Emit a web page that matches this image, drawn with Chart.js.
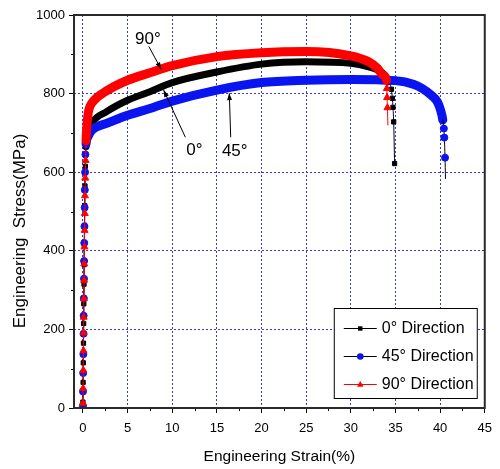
<!DOCTYPE html>
<html>
<head>
<meta charset="utf-8">
<script src="https://cdn.jsdelivr.net/npm/chart.js@4.4.1/dist/chart.umd.min.js"></script>
<style>
  html, body { margin: 0; padding: 0; background: #fff; }
  #wrap { width: 500px; height: 469px; }
</style>
</head>
<body>
<div id="wrap"><canvas id="stressChart" width="500" height="469"></canvas></div>
<script>
// axis ticks
const strainTicks = [0, 5, 10, 15, 20, 25, 30, 35, 40, 45];
const strainMinor = [2.5, 7.5, 12.5, 17.5, 22.5, 27.5, 32.5, 37.5, 42.5];
const stressTicks = [0, 200, 400, 600, 800, 1000];
const stressMinor = [100, 300, 500, 700, 900];

const seriesLabels = ['0° Direction', '45° Direction', '90° Direction'];

// 0 deg: elastic part, plastic band, fracture tail
const strain0Elastic = [0.00, 0.02, 0.04, 0.06, 0.08, 0.10, 0.12, 0.14, 0.16, 0.18, 0.20, 0.23, 0.27];
const stress0Elastic = [15, 65, 115, 165, 215, 265, 315, 365, 415, 465, 515, 565, 615];
const strain0Band = [0.35, 0.55, 1.0, 2.65, 5, 7.5, 10, 15, 20, 25, 30, 32, 33, 33.8, 34.2];
const stress0Band = [665, 700, 725, 754, 783, 805, 828, 855, 875, 881, 877, 868, 860, 847, 830];
const strain0Tail = [34.55, 34.65, 34.72, 34.8, 34.9];
const stress0Tail = [811, 788, 765, 728, 622];

// 45 deg
const strain45Elastic = [0.00, 0.01, 0.03, 0.05, 0.07, 0.08, 0.10, 0.12, 0.13, 0.15, 0.17, 0.19, 0.21, 0.24, 0.28];
const stress45Elastic = [6, 42, 89, 137, 189, 235, 279, 329, 374, 420, 462, 510, 555, 600, 645];
const strain45Band = [0.35, 0.6, 1.0, 2.65, 5, 7.5, 10, 15, 20, 25, 30, 35, 37, 38, 39, 39.7, 40.1, 40.3];
const stress45Band = [672, 692, 707, 724, 745, 762, 781, 809, 828, 834, 836, 833, 824, 813, 796, 779, 754, 733];
const strain45Tail = [40.42, 40.47, 40.55, 40.6];
const stress45Tail = [711, 688, 637, 584];

// 90 deg
const strain90Elastic = [0.00, 0.02, 0.04, 0.06, 0.08, 0.09, 0.11, 0.13, 0.15, 0.17, 0.19, 0.21, 0.23, 0.26, 0.30];
const stress90Elastic = [12, 50, 96, 146, 191, 231, 278, 325, 367, 410, 452, 495, 540, 585, 630];
const strain90Band = [0.35, 0.45, 0.6, 0.8, 1.2, 2.65, 5, 7.5, 10, 15, 20, 25, 30, 32, 33, 33.6, 34.0];
const stress90Band = [680, 720, 752, 768, 782, 807, 834, 853, 871, 894, 904, 907, 896, 881, 864, 847, 834];
const strain90Tail = [34.03, 34.06, 34.1, 34.15];
const stress90Tail = [813, 790, 764, 720];

// arrow labels, in data units
const notes = [
  { text: '90°', at: [5.83, 927], from: [7.38, 920], to: [8.76, 862] },
  { text: '0°', at: [11.58, 643], from: [11.47, 689], to: [9.04, 809] },
  { text: '45°', at: [15.56, 641], from: [16.55, 689], to: [16.39, 801] }
];

const FONT = "'Liberation Sans', Arial, sans-serif";
const gridBlue = '#3a3ac4';

function buildSeries(sE, yE, sB, yB, sT, yT) {
  const xs = sE.concat(sB, sT);
  const ys = yE.concat(yB, yT);
  return {
    points: xs.map((x, i) => ({ x: x, y: ys[i] })),
    bandFrom: sE.length,
    bandTo: sE.length + sB.length - 1
  };
}

const looks = [
  { line: '#000', fill: '#000', marker: 'rect', size: 3, band: 7, order: 3, openEnd: false },
  { line: '#000', fill: '#0a14f0', marker: 'circle', size: 3.5, band: 9, order: 2, openEnd: true },
  { line: '#f00', fill: '#f00', marker: 'triangle', size: 4, band: 9, order: 1, openEnd: true }
];

const series = [
  buildSeries(strain0Elastic, stress0Elastic, strain0Band, stress0Band, strain0Tail, stress0Tail),
  buildSeries(strain45Elastic, stress45Elastic, strain45Band, stress45Band, strain45Tail, stress45Tail),
  buildSeries(strain90Elastic, stress90Elastic, strain90Band, stress90Band, strain90Tail, stress90Tail)
];

function makeDataset(i) {
  const s = series[i], lk = looks[i];
  const inBand = c => c.p0DataIndex >= s.bandFrom && c.p1DataIndex <= s.bandTo;
  const radius = c => {
    const k = c.dataIndex;
    if (k >= s.bandFrom && k <= s.bandTo) return 0;
    if (lk.openEnd && k === s.points.length - 1) return 0;
    return lk.size;
  };
  return {
    label: seriesLabels[i],
    data: s.points,
    order: lk.order,
    borderColor: lk.line,
    borderWidth: 1,
    borderCapStyle: 'round',
    borderJoinStyle: 'round',
    cubicInterpolationMode: 'monotone',
    pointStyle: lk.marker,
    pointRadius: radius,
    pointHoverRadius: radius,
    pointBackgroundColor: lk.fill,
    pointBorderColor: lk.fill,
    pointBorderWidth: 1,
    segment: {
      borderWidth: c => inBand(c) ? lk.band : 1,
      borderColor: c => inBand(c) ? lk.fill : lk.line
    }
  };
}

function drawMarker(ctx, style, x, y, color) {
  ctx.fillStyle = color;
  ctx.beginPath();
  if (style === 'rect') {
    ctx.rect(x - 2.2, y - 2.2, 4.4, 4.4);
  } else if (style === 'circle') {
    ctx.arc(x, y, 3.3, 0, Math.PI * 2);
  } else {
    ctx.moveTo(x, y - 3.6);
    ctx.lineTo(x + 3.2, y + 2.2);
    ctx.lineTo(x - 3.2, y + 2.2);
    ctx.closePath();
  }
  ctx.fill();
}

const decorations = {
  id: 'decorations',
  afterDatasetsDraw(chart) {
    const { ctx, chartArea: a, scales: { x, y } } = chart;
    ctx.save();
    // minor ticks
    ctx.strokeStyle = '#000';
    ctx.lineWidth = 1;
    ctx.beginPath();
    strainMinor.forEach(v => {
      const px = Math.round(x.getPixelForValue(v)) + 0.5;
      ctx.moveTo(px, a.bottom);
      ctx.lineTo(px, a.bottom + 3);
    });
    stressMinor.forEach(v => {
      const py = Math.round(y.getPixelForValue(v)) + 0.5;
      ctx.moveTo(a.left - 3, py);
      ctx.lineTo(a.left, py);
    });
    ctx.stroke();

    // frame
    ctx.strokeStyle = '#2a2a2a';
    ctx.lineWidth = 2;
    ctx.strokeRect(a.left, a.top, a.right - a.left, a.bottom - a.top);

    // arrow labels
    ctx.fillStyle = '#000';
    ctx.strokeStyle = '#000';
    ctx.lineWidth = 1;
    ctx.font = '17px ' + FONT;
    ctx.textAlign = 'left';
    ctx.textBaseline = 'alphabetic';
    notes.forEach(n => {
      ctx.fillText(n.text, x.getPixelForValue(n.at[0]), y.getPixelForValue(n.at[1]));
      const x0 = x.getPixelForValue(n.from[0]), y0 = y.getPixelForValue(n.from[1]);
      const x1 = x.getPixelForValue(n.to[0]), y1 = y.getPixelForValue(n.to[1]);
      ctx.beginPath();
      ctx.moveTo(x0, y0);
      ctx.lineTo(x1, y1);
      ctx.stroke();
      const ang = Math.atan2(y1 - y0, x1 - x0);
      ctx.beginPath();
      ctx.moveTo(x1, y1);
      ctx.lineTo(x1 - 7 * Math.cos(ang) + 2.5 * Math.sin(ang), y1 - 7 * Math.sin(ang) - 2.5 * Math.cos(ang));
      ctx.lineTo(x1 - 7 * Math.cos(ang) - 2.5 * Math.sin(ang), y1 - 7 * Math.sin(ang) + 2.5 * Math.cos(ang));
      ctx.closePath();
      ctx.fill();
    });

    // y title
    ctx.save();
    ctx.translate(20, 231);
    ctx.rotate(-Math.PI / 2);
    ctx.textAlign = 'center';
    ctx.textBaseline = 'middle';
    ctx.font = '17px ' + FONT;
    ctx.fillText('Engineering  Stress(MPa)', 0, 0);
    ctx.restore();

    // legend box
    const bx = a.right - 151, by = a.bottom - 100, bw = 143, bh = 90;
    ctx.fillStyle = '#fff';
    ctx.fillRect(bx, by, bw, bh);
    ctx.strokeStyle = '#000';
    ctx.lineWidth = 1;
    ctx.strokeRect(bx + 0.5, by + 0.5, bw, bh);
    ctx.font = '16px ' + FONT;
    ctx.textBaseline = 'middle';
    seriesLabels.forEach((lab, i) => {
      const ry = by + 20 + i * 28;
      ctx.strokeStyle = looks[i].line;
      ctx.beginPath();
      ctx.moveTo(bx + 10, ry + 0.5);
      ctx.lineTo(bx + 43, ry + 0.5);
      ctx.stroke();
      drawMarker(ctx, looks[i].marker, bx + 26.5, ry + 0.5, looks[i].fill);
      ctx.fillStyle = '#000';
      ctx.fillText(lab, bx + 48, ry + 1);
    });
    ctx.restore();
  }
};

Chart.defaults.font.family = FONT;
Chart.defaults.color = '#000';

new Chart(document.getElementById('stressChart'), {
  type: 'line',
  data: { datasets: [makeDataset(0), makeDataset(1), makeDataset(2)] },
  options: {
    responsive: false,
    animation: false,
    events: [],
    layout: { padding: { top: 15, right: 9, left: 0, bottom: 0 } },
    plugins: { legend: { display: false }, tooltip: { enabled: false } },
    scales: {
      x: {
        type: 'linear',
        min: -1,
        max: 45,
        afterBuildTicks: sc => { sc.ticks = strainTicks.map(v => ({ value: v })); },
        afterFit: sc => { sc.height = 61; },
        ticks: { font: { size: 13 }, color: '#000', padding: 8, maxRotation: 0, autoSkip: false, callback: v => String(v) },
        grid: {
          color: c => (c.tick && c.tick.value === 45) ? 'rgba(0,0,0,0)' : gridBlue,
          lineWidth: 1,
          tickColor: '#000',
          tickLength: 5
        },
        border: { display: false, dash: [2, 2] },
        title: {
          display: true,
          text: 'Engineering Strain(%)',
          font: { size: 15.5 },
          color: '#000',
          padding: { top: 0, bottom: 3 }
        }
      },
      y: {
        type: 'linear',
        min: 0,
        max: 1000,
        afterBuildTicks: sc => { sc.ticks = stressTicks.map(v => ({ value: v })); },
        afterFit: sc => { sc.width = 74; },
        ticks: { font: { size: 13 }, color: '#000', padding: 4, autoSkip: false, callback: v => String(v) },
        grid: {
          color: c => (c.tick && (c.tick.value === 0 || c.tick.value === 1000)) ? 'rgba(0,0,0,0)' : gridBlue,
          lineWidth: 1,
          tickColor: '#000',
          tickLength: 5
        },
        border: { display: false, dash: [2, 2] }
      }
    }
  },
  plugins: [decorations]
});
</script>
</body>
</html>
